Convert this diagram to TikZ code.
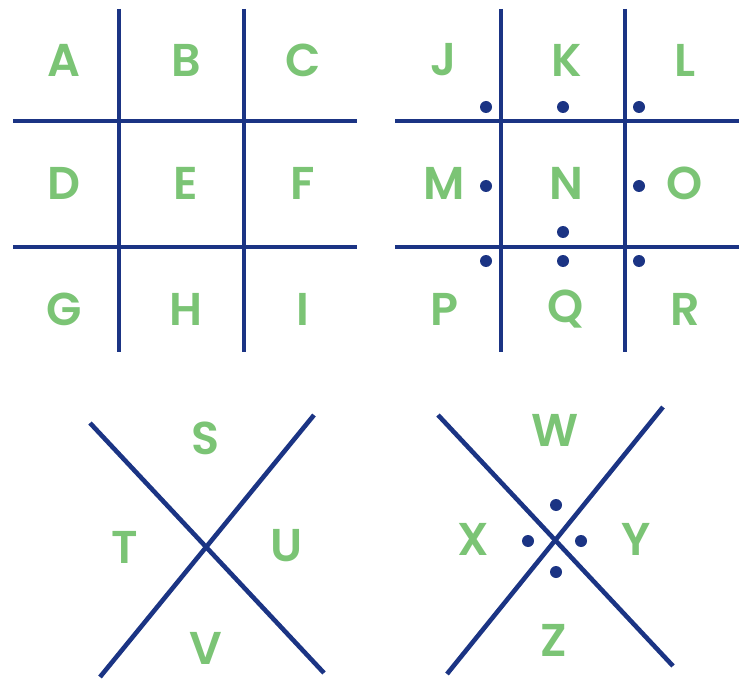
\documentclass[tikz,border=0pt]{standalone}
\usepackage{fontspec}
\newfontfamily\lf{Poppins SemiBold}
\definecolor{navy}{HTML}{1B3484}
\definecolor{lgreen}{HTML}{7BC475}
\begin{document}
\begin{tikzpicture}[x=1pt,y=-1pt,
  gline/.style={draw=navy,line width=4.6pt},
  ltr/.style={text=lgreen,font=\lf\fontsize{46}{46}\selectfont,inner sep=0pt,anchor=center},
  pdot/.style={fill=navy,draw=none}]
\useasboundingbox (0,0) rectangle (747,679);
% grid 1
\coordinate (g1t1) at (119,9); \coordinate (g1b1) at (119,352);
\coordinate (g1t2) at (244,9); \coordinate (g1b2) at (244,352);
\coordinate (g1l1) at (13,121); \coordinate (g1r1) at (357,121);
\coordinate (g1l2) at (13,247); \coordinate (g1r2) at (357,247);
\draw[gline] (g1t1) -- (g1b1); \draw[gline] (g1t2) -- (g1b2);
\draw[gline] (g1l1) -- (g1r1); \draw[gline] (g1l2) -- (g1r2);
\node[ltr] (A) at (64,60) {A};
\node[ltr] (B) at (186,60) {B};
\node[ltr] (C) at (303,60) {C};
\node[ltr] (D) at (64,183) {D};
\node[ltr] (E) at (186,183) {E};
\node[ltr] (F) at (303,183) {F};
\node[ltr] (G) at (64,309) {G};
\node[ltr] (H) at (186,309) {H};
\node[ltr] (I) at (303,309) {I};
% grid 2
\coordinate (g2t1) at (501,9); \coordinate (g2b1) at (501,352);
\coordinate (g2t2) at (625,9); \coordinate (g2b2) at (625,352);
\coordinate (g2l1) at (395,121); \coordinate (g2r1) at (739,121);
\coordinate (g2l2) at (395,247); \coordinate (g2r2) at (739,247);
\draw[gline] (g2t1) -- (g2b1); \draw[gline] (g2t2) -- (g2b2);
\draw[gline] (g2l1) -- (g2r1); \draw[gline] (g2l2) -- (g2r2);
\node[ltr] (J) at (444,60) {J};
\node[ltr] (K) at (567,60) {K};
\node[ltr] (L) at (685,60) {L};
\node[ltr] (M) at (444,183) {M};
\node[ltr] (N) at (566,183) {N};
\node[ltr] (O) at (685,183) {O};
\node[ltr] (P) at (444,309) {P};
\node[ltr] (Q) at (566,309) {Q};
\node[ltr] (R) at (685,309) {R};
\foreach \p in {(486,107),(563,107),(639,107),(486,186),(639,186),(563,232),(486,261),(563,261),(639,261)}
  \fill[pdot] \p circle (6);
% X 1
\coordinate (x1a) at (90,423); \coordinate (x1b) at (324,673);
\coordinate (x1c) at (314,415); \coordinate (x1d) at (100,677);
\draw[gline] (x1a) -- (x1b); \draw[gline] (x1c) -- (x1d);
\node[ltr] (S) at (206,438) {S};
\node[ltr] (T) at (125,547) {T};
\node[ltr] (U) at (287,546) {U};
\node[ltr] (V) at (206,648) {V};
% X 2
\coordinate (x2a) at (438,415); \coordinate (x2b) at (673,666);
\coordinate (x2c) at (663,407); \coordinate (x2d) at (447,674);
\draw[gline] (x2a) -- (x2b); \draw[gline] (x2c) -- (x2d);
\node[ltr] (W) at (555,430) {W};
\node[ltr] (X) at (473,539) {X};
\node[ltr] (Y) at (636,539) {Y};
\node[ltr] (Z) at (554,640) {Z};
\foreach \p in {(556,505),(528,541),(581,541),(556,572)}
  \fill[pdot] \p circle (6);
\end{tikzpicture}
\end{document}
